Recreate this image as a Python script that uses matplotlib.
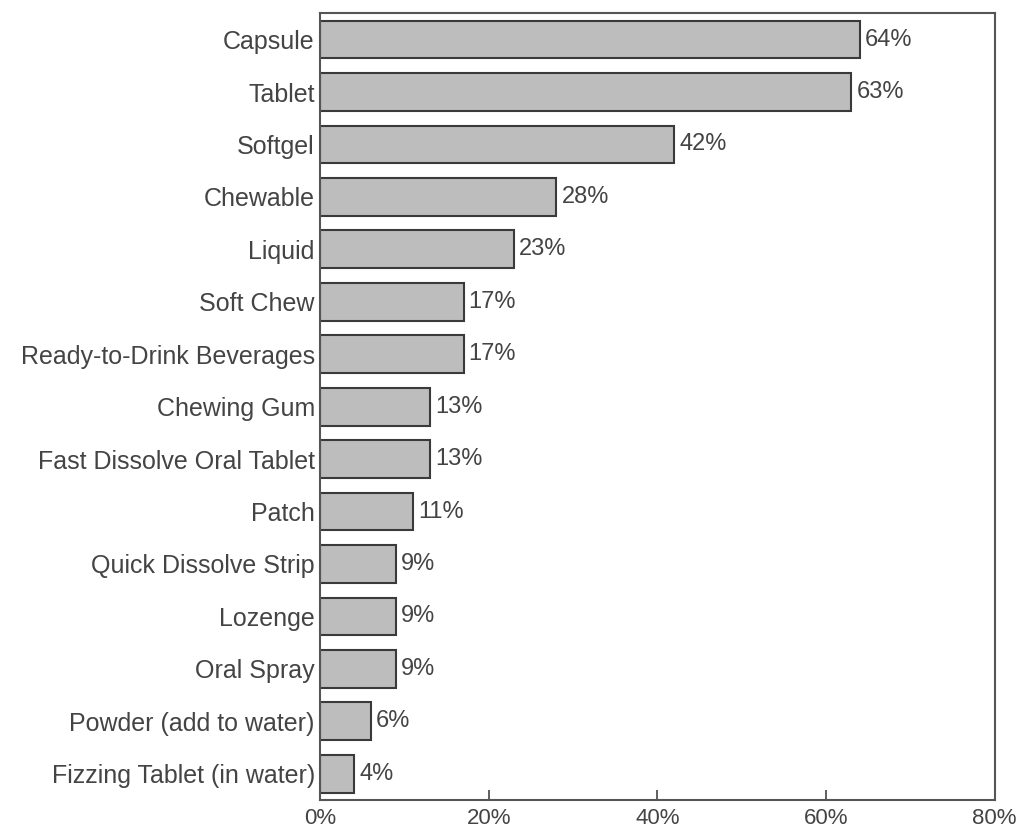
import matplotlib
matplotlib.use('Agg')
import matplotlib.pyplot as plt

categories = ['Capsule', 'Tablet', 'Softgel', 'Chewable', 'Liquid', 'Soft Chew',
              'Ready-to-Drink Beverages', 'Chewing Gum', 'Fast Dissolve Oral Tablet',
              'Patch', 'Quick Dissolve Strip', 'Lozenge', 'Oral Spray',
              'Powder (add to water)', 'Fizzing Tablet (in water)']
values = [64, 63, 42, 28, 23, 17, 17, 13, 13, 11, 9, 9, 9, 6, 4]
xticks = [0, 20, 40, 60, 80]

plt.rcParams['font.family'] = ['Liberation Sans', 'DejaVu Sans']

fig = plt.figure(figsize=(10.17, 8.35), dpi=100)
ax = fig.add_axes([0.315, 0.042, 0.663, 0.942])

y = list(range(len(categories)))
ax.barh(y, values, height=0.72, color='#bdbdbd', edgecolor='#3a3a3a', linewidth=1.5)
for yi, v in zip(y, values):
    ax.text(v + 0.6, yi, f'{v}%', va='center', ha='left', fontsize=17, color='#444444')

ax.set_yticks(y)
ax.set_yticklabels(categories, fontsize=18, color='#444444')
ax.set_ylim(len(categories) - 0.5, -0.5)
ax.set_xlim(0, 80)
ax.set_xticks(xticks)
ax.set_xticklabels([f'{t}%' for t in xticks], fontsize=16, color='#444444')
ax.tick_params(axis='y', length=0, pad=4)
ax.tick_params(axis='x', direction='in', length=7, width=1.2, color='#444444', pad=6)
for s in ax.spines.values():
    s.set_color('#555555')
    s.set_linewidth(1.5)

fig.savefig('out.png', dpi=100)
